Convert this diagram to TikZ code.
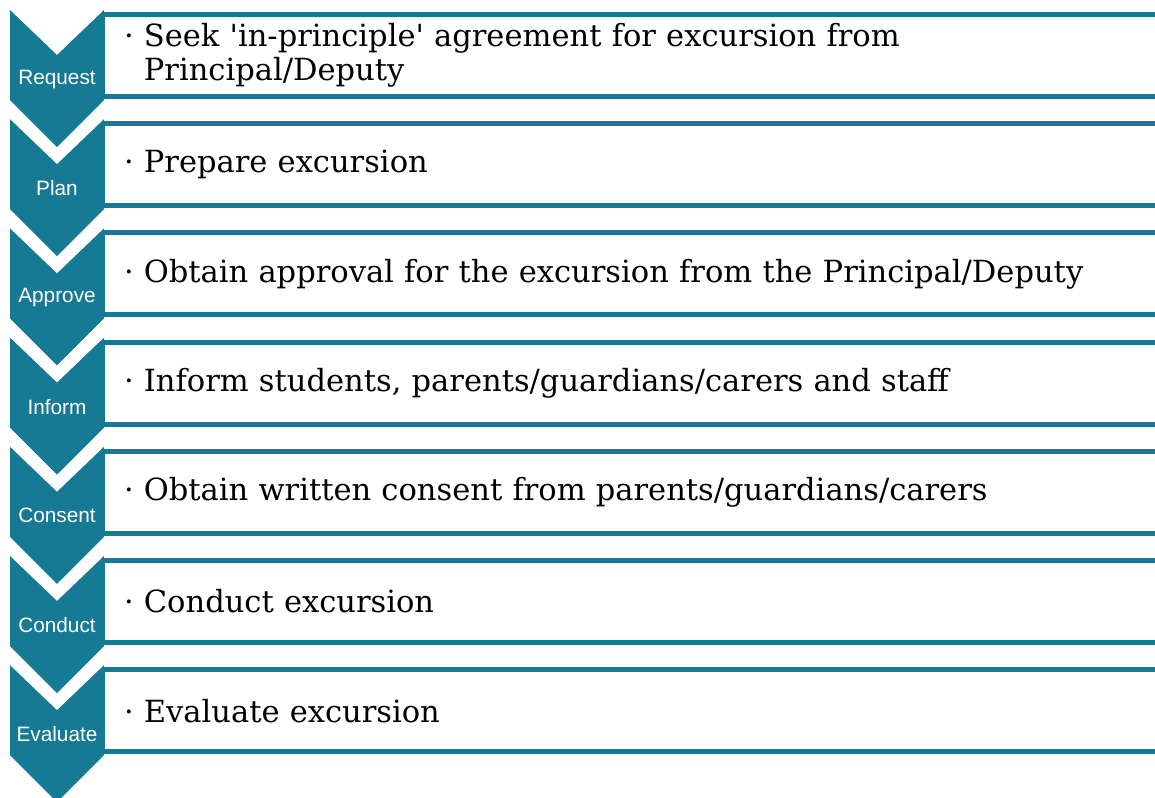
\documentclass[tikz,border=0pt]{standalone}
\usepackage{fontspec}
\setmainfont{DejaVu Serif}
\newfontfamily\labelfont{Liberation Sans}
\definecolor{stepteal}{RGB}{22,122,148}
\tikzset{
  chevron/.style={fill=stepteal},
  steplabel/.style={text=white, font=\labelfont\fontsize{15.6}{17}\selectfont},
  stepbox/.style={draw=stepteal, line width=1.5pt, fill=white, anchor=north west,
    outer sep=0pt, minimum width=792pt, minimum height=61.5pt, text width=762pt,
    inner xsep=15pt, inner ysep=0pt, align=left,
    font=\fontsize{22.9}{25.5}\selectfont},
  boxrule/.style={draw=stepteal, line width=3.75pt},
}

\begin{document}
\begin{tikzpicture}[x=0.75pt, y=-0.75pt]
    \useasboundingbox (0,0) rectangle (1155,797);
    % chevrons
    \fill[chevron] (10,10) -- ++(47,45) -- ++(47,-45) -- ++(0,90) -- ++(-47,47) -- ++(-47,-47) -- cycle;
    \fill[chevron] (10,119.2) -- ++(47,45) -- ++(47,-45) -- ++(0,90) -- ++(-47,47) -- ++(-47,-47) -- cycle;
    \fill[chevron] (10,228.4) -- ++(47,45) -- ++(47,-45) -- ++(0,90) -- ++(-47,47) -- ++(-47,-47) -- cycle;
    \fill[chevron] (10,337.6) -- ++(47,45) -- ++(47,-45) -- ++(0,90) -- ++(-47,47) -- ++(-47,-47) -- cycle;
    \fill[chevron] (10,446.8) -- ++(47,45) -- ++(47,-45) -- ++(0,90) -- ++(-47,47) -- ++(-47,-47) -- cycle;
    \fill[chevron] (10,556) -- ++(47,45) -- ++(47,-45) -- ++(0,90) -- ++(-47,47) -- ++(-47,-47) -- cycle;
    \fill[chevron] (10,665.2) -- ++(47,45) -- ++(47,-45) -- ++(0,90) -- ++(-47,47) -- ++(-47,-47) -- cycle;
    \node[steplabel] (request) at (57,79) {Request};
    \node[steplabel] (plan) at (57,188.2) {Plan};
    \node[steplabel] (approve) at (57,297.4) {Approve};
    \node[steplabel] (inform) at (57,406.6) {Inform};
    \node[steplabel] (consent) at (57,515.8) {Consent};
    \node[steplabel] (conduct) at (57,625) {Conduct};
    \node[steplabel] (evaluate) at (57,734.2) {Evaluate};
    % text boxes
    \node[stepbox] (b1) at (104,14.5) {·~Seek \textquotesingle in-principle\textquotesingle{} agreement for excursion from\\\phantom{·~}Principal/Deputy};
    \node[stepbox] (b2) at (104,123.7) {·~Prepare excursion};
    \node[stepbox] (b3) at (104,232.9) {·~Obtain approval for the excursion from the Principal/Deputy};
    \node[stepbox] (b4) at (104,342.1) {·~Inform students, parents/guardians/carers and staff};
    \node[stepbox] (b5) at (104,451.3) {·~Obtain written consent from parents/guardians/carers};
    \node[stepbox] (b6) at (104,560.5) {·~Conduct excursion};
    \node[stepbox] (b7) at (104,669.7) {·~Evaluate excursion};
    \draw[boxrule] (b1.north west) -- (b1.north east) (b1.south west) -- (b1.south east);
    \draw[boxrule] (b2.north west) -- (b2.north east) (b2.south west) -- (b2.south east);
    \draw[boxrule] (b3.north west) -- (b3.north east) (b3.south west) -- (b3.south east);
    \draw[boxrule] (b4.north west) -- (b4.north east) (b4.south west) -- (b4.south east);
    \draw[boxrule] (b5.north west) -- (b5.north east) (b5.south west) -- (b5.south east);
    \draw[boxrule] (b6.north west) -- (b6.north east) (b6.south west) -- (b6.south east);
    \draw[boxrule] (b7.north west) -- (b7.north east) (b7.south west) -- (b7.south east);
\end{tikzpicture}
\end{document}
